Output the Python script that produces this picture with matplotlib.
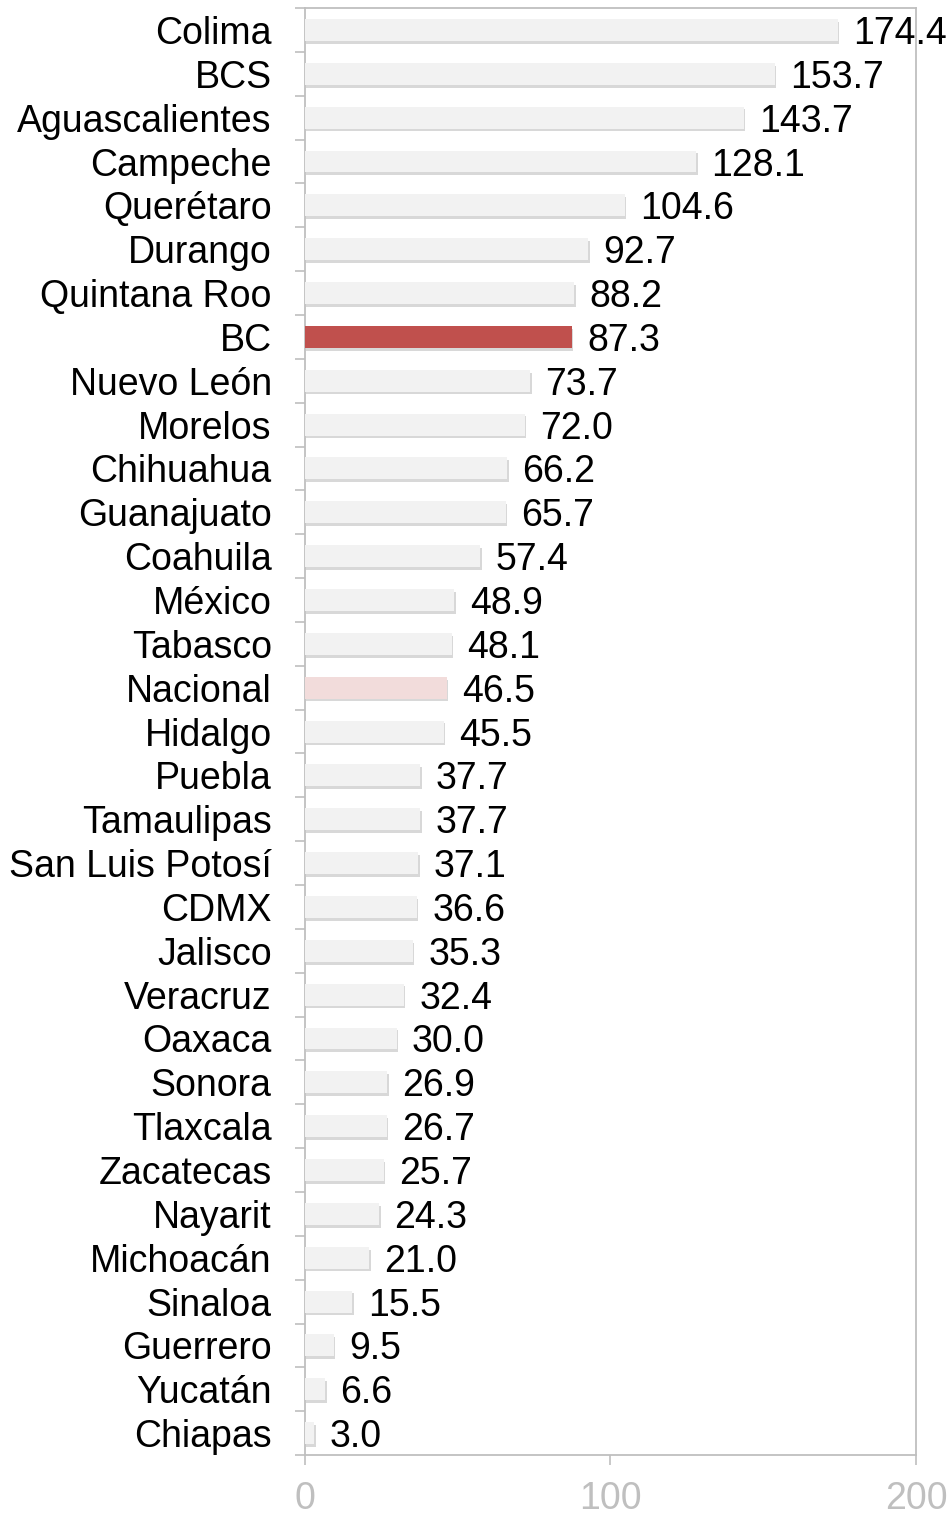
import numpy as np
import matplotlib
matplotlib.use("Agg")
import matplotlib.pyplot as plt
import matplotlib.patheffects as pe

plt.rcParams["font.family"] = ["Liberation Sans", "DejaVu Sans"]

# Data (top to bottom)
states = ["Colima", "BCS", "Aguascalientes", "Campeche", "Querétaro", "Durango",
          "Quintana Roo", "BC", "Nuevo León", "Morelos", "Chihuahua", "Guanajuato",
          "Coahuila", "México", "Tabasco", "Nacional", "Hidalgo", "Puebla",
          "Tamaulipas", "San Luis Potosí", "CDMX", "Jalisco", "Veracruz", "Oaxaca",
          "Sonora", "Tlaxcala", "Zacatecas", "Nayarit", "Michoacán", "Sinaloa",
          "Guerrero", "Yucatán", "Chiapas"]
values = [174.4, 153.7, 143.7, 128.1, 104.6, 92.7, 88.2, 87.3, 73.7, 72.0, 66.2,
          65.7, 57.4, 48.9, 48.1, 46.5, 45.5, 37.7, 37.7, 37.1, 36.6, 35.3, 32.4,
          30.0, 26.9, 26.7, 25.7, 24.3, 21.0, 15.5, 9.5, 6.6, 3.0]
x_ticks = [0, 100, 200]

highlight = {"BC": "#c0504d", "Nacional": "#f2dcdb"}
colors = [highlight.get(s, "#f2f2f2") for s in states]

fig = plt.figure(figsize=(9.49, 15.16), dpi=100)
ax = fig.add_axes([0.3214, 0.0402, 0.6438, 0.9545])

y = np.arange(len(states))
bars = ax.barh(y, values, height=0.5, color=colors, zorder=3)
for b in bars:
    b.set_path_effects([pe.SimplePatchShadow(offset=(1, -2), shadow_rgbFace="#7f7f7f", alpha=0.3),
                        pe.Normal()])

for yi, v in zip(y, values):
    ax.text(v + 5, yi, f"{v:.1f}", va="center_baseline", ha="left", fontsize=27,
            color="black", clip_on=False, zorder=5)

ax.set_xlim(0, 200)
ax.set_ylim(len(states) - 0.5, -0.5)

ax.set_yticks(y)
ax.set_yticklabels(states)
ax.set_yticks(np.arange(-0.5, len(states), 1), minor=True)
ax.tick_params(axis="y", which="major", length=0, pad=24, labelsize=27, labelcolor="black")
ax.tick_params(axis="y", which="minor", length=7, width=1.2, color="#bfbfbf")

ax.set_xticks(x_ticks)
ax.tick_params(axis="x", which="major", length=7, width=1.2, color="#bfbfbf",
               labelsize=27, labelcolor="#bfbfbf", pad=12)

for sp in ax.spines.values():
    sp.set_color("#bfbfbf")
    sp.set_linewidth(1.3)

fig.savefig("out.png", dpi=100)
